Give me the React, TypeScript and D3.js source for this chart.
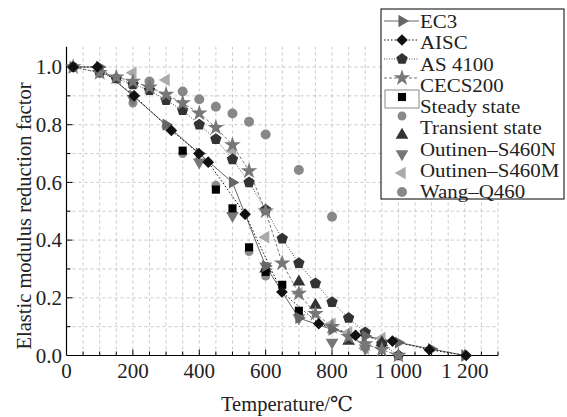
import React from 'react';
import * as d3 from 'd3';

// code curves (temperature in °C, reduction factor)
const ec3Temp = [20, 100, 200, 300, 400, 500, 600, 700, 800, 900, 1000, 1100, 1200];
const ec3Factor = [1, 1, 0.9, 0.8, 0.7, 0.6, 0.31, 0.13, 0.09, 0.0675, 0.045, 0.0225, 0];

const aiscTemp = [20, 93, 204, 316, 399, 427, 538, 649, 760, 871, 982, 1093, 1204];
const aiscFactor = [1, 1, 0.9, 0.78, 0.7, 0.67, 0.49, 0.22, 0.11, 0.07, 0.05, 0.02, 0];

const codeTemp = [20, 100, 150, 200, 250, 300, 350, 400, 450, 500, 550, 600, 650, 700, 750, 800, 850, 900, 950, 1000];
const as4100Factor = [1, 0.98, 0.96, 0.94, 0.92, 0.885, 0.85, 0.8, 0.75, 0.68, 0.6, 0.505, 0.405, 0.32, 0.25, 0.185, 0.13, 0.08, 0.04, 0];
const cecsFactor = [1, 0.98, 0.965, 0.95, 0.93, 0.905, 0.875, 0.84, 0.79, 0.73, 0.64, 0.5, 0.32, 0.215, 0.145, 0.1, 0.065, 0.04, 0.02, 0];

// test data
const steadyTemp = [350, 450, 500, 550, 600, 650, 700];
const steadyFactor = [0.71, 0.575, 0.51, 0.375, 0.29, 0.245, 0.155];
const steadyGreyTemp = [100, 200, 300, 350, 450, 550, 600];
const steadyGreyFactor = [0.98, 0.875, 0.795, 0.7, 0.59, 0.36, 0.275];
const transientTemp = [600, 700, 750, 850, 950];
const transientFactor = [0.3, 0.255, 0.175, 0.05, 0.045];
const s460nTemp = [200, 400, 500, 600, 700, 800, 900];
const s460nFactor = [0.89, 0.67, 0.485, 0.31, 0.13, 0.045, 0.025];
const s460mTemp = [200, 300, 500, 600, 700, 800, 850, 900, 950];
const s460mFactor = [0.98, 0.955, 0.71, 0.41, 0.215, 0.11, 0.08, 0.025, 0.06];
const wangTemp = [20, 250, 350, 400, 450, 500, 550, 600, 700, 800];
const wangFactor = [1, 0.95, 0.915, 0.888, 0.862, 0.839, 0.81, 0.766, 0.643, 0.481];

const xTicks = [0, 200, 400, 600, 800, 1000, 1200];
const xTickLabels = ['0', '200', '400', '600', '800', '1 000', '1 200'];
const yTicks = [0, 0.2, 0.4, 0.6, 0.8, 1.0];

const legendLabels = ['EC3', 'AISC', 'AS 4100', 'CECS200', 'Steady state', 'Transient state',
  'Outinen\u2013S460N', 'Outinen\u2013S460M', 'Wang\u2013Q460'];

const FONT = "'Liberation Serif', 'Times New Roman', 'DejaVu Serif', serif";

const pentagon = {
  draw(ctx: any, size: number) {
    const r = Math.sqrt(size / 2.378);
    for (let i = 0; i < 5; i++) {
      const a = -Math.PI / 2 + (i * 2 * Math.PI) / 5;
      const x = r * Math.cos(a), y = r * Math.sin(a);
      if (i === 0) ctx.moveTo(x, y); else ctx.lineTo(x, y);
    }
    ctx.closePath();
  },
};

type Mk = { type: any; size: number; fill: string; rot: number };
const mk = {
  ec3: { type: d3.symbolTriangle, size: 65, fill: '#666', rot: 90 },
  aisc: { type: d3.symbolSquare, size: 68, fill: '#111', rot: 45 },
  as4100: { type: pentagon, size: 85, fill: '#333', rot: 0 },
  cecs: { type: d3.symbolStar, size: 85, fill: '#777', rot: 0 },
  steady: { type: d3.symbolSquare, size: 66, fill: '#000', rot: 0 },
  steadyGrey: { type: d3.symbolCircle, size: 62, fill: '#8a8a8a', rot: 0 },
  transient: { type: d3.symbolTriangle, size: 70, fill: '#333', rot: 0 },
  s460n: { type: d3.symbolTriangle, size: 70, fill: '#777', rot: 180 },
  s460m: { type: d3.symbolTriangle, size: 70, fill: '#aaa', rot: -90 },
  wang: { type: d3.symbolCircle, size: 78, fill: '#888', rot: 0 },
} as Record<string, Mk>;

const Marker = ({ m, x, y }: { m: Mk; x: number; y: number }) => (
  <path
    d={d3.symbol().type(m.type).size(m.size)() as string}
    transform={`translate(${x},${y}) rotate(${m.rot})`}
    fill={m.fill}
  />
);

const txt = { fontFamily: FONT, fill: '#222' };

export default function App() {
  const width = 567, height = 417;
  const x = d3.scaleLinear().domain([0, 1300]).range([66.5, 498]);
  const y = d3.scaleLinear().domain([0, 1.07]).range([355.5, 46.8]);

  const line = (t: number[], k: number[]) =>
    d3.line<number>().x((_, i) => x(t[i])).y((_, i) => y(k[i]))(t) as string;

  const scatter = (t: number[], k: number[], m: Mk, key: string) =>
    t.map((v, i) => <Marker key={key + i} m={m} x={x(v)} y={y(k[i])} />);

  const vGrid = d3.range(50, 1301, 50);
  const hGrid = d3.range(1, 11).map(d => d / 10);

  const legX = 381, legY = 9;
  const symX = 402;
  const symY = (i: number) => 21 + i * 19;
  const txtY = (i: number) => 21.5 + i * 21.3;
  const legendSyms: { m: Mk; dash?: string; stroke?: string }[] = [
    { m: mk.ec3, dash: 'none', stroke: '#666' },
    { m: mk.aisc, dash: '1.5,2', stroke: '#111' },
    { m: mk.as4100, dash: '1,1.5', stroke: '#555' },
    { m: mk.cecs, dash: '3,2', stroke: '#777' },
    { m: mk.steady },
    { m: mk.steadyGrey },
    { m: mk.transient },
    { m: mk.s460n },
    { m: mk.s460m },
    { m: mk.wang },
  ];

  return (
    <svg width={width} height={height} style={{ position: 'absolute', left: 0, top: 0, background: '#fff' }}>
      {/* grid */}
      {vGrid.map(g => (
        <line key={'vg' + g} x1={x(g)} x2={x(g)} y1={y(0)} y2={y(1.07)}
          stroke="#bbb" strokeWidth={0.8} strokeDasharray="3,3" />
      ))}
      {hGrid.map(g => (
        <line key={'hg' + g} x1={x(0)} x2={x(1300)} y1={y(g)} y2={y(g)}
          stroke="#bbb" strokeWidth={0.8} strokeDasharray="3,3" />
      ))}

      {/* axes */}
      <line x1={x(0)} x2={x(1300)} y1={y(0)} y2={y(0)} stroke="#000" strokeWidth={1.2} />
      <line x1={x(0)} x2={x(0)} y1={y(0)} y2={y(1.07)} stroke="#000" strokeWidth={1.2} />
      {vGrid.map(g => (
        <line key={'xt' + g} x1={x(g)} x2={x(g)} y1={y(0)} y2={y(0) - (g % 200 === 0 ? 6 : 4)}
          stroke="#000" strokeWidth={1} />
      ))}
      {hGrid.map(g => (
        <line key={'yt' + g} x1={x(0)} x2={x(0) + (Math.round(g * 10) % 2 === 0 ? 6 : 4)} y1={y(g)} y2={y(g)}
          stroke="#000" strokeWidth={1} />
      ))}
      {xTicks.map((t, i) => (
        <text key={'xl' + t} x={x(t)} y={378} textAnchor="middle" fontSize={21}
          style={{ ...txt, whiteSpace: 'pre' }}>{xTickLabels[i]}</text>
      ))}
      {yTicks.map(t => (
        <text key={'yl' + t} x={62} y={y(t)} dy="0.35em" textAnchor="end" fontSize={21} style={txt}>
          {t.toFixed(1)}</text>
      ))}
      <text x={287} y={411} textAnchor="middle" fontSize={20.5} style={txt}>Temperature/℃</text>
      <text transform="translate(31,216) rotate(-90)" textAnchor="middle" fontSize={20.5} style={txt}>
        Elastic modulus reduction factor</text>

      {/* code curves */}
      <path d={line(ec3Temp, ec3Factor)} fill="none" stroke="#666" strokeWidth={1} />
      <path d={line(aiscTemp, aiscFactor)} fill="none" stroke="#111" strokeWidth={1} strokeDasharray="1.5,2" />
      <path d={line(codeTemp, as4100Factor)} fill="none" stroke="#555" strokeWidth={1} strokeDasharray="1,1.5" />
      <path d={line(codeTemp, cecsFactor)} fill="none" stroke="#777" strokeWidth={1} strokeDasharray="3,2" />

      {/* test data */}
      {scatter(wangTemp, wangFactor, mk.wang, 'w')}
      {scatter(steadyGreyTemp, steadyGreyFactor, mk.steadyGrey, 'sg')}
      {scatter(s460mTemp, s460mFactor, mk.s460m, 'sm')}
      {scatter(s460nTemp, s460nFactor, mk.s460n, 'sn')}
      {scatter(transientTemp, transientFactor, mk.transient, 'tr')}
      {scatter(steadyTemp, steadyFactor, mk.steady, 'st')}

      {/* code markers */}
      {scatter(codeTemp, as4100Factor, mk.as4100, 'as')}
      {scatter(codeTemp, cecsFactor, mk.cecs, 'ce')}
      {scatter(ec3Temp, ec3Factor, mk.ec3, 'ec')}
      {scatter(aiscTemp, aiscFactor, mk.aisc, 'ai')}

      {/* legend */}
      <rect x={legX} y={legY} width={183} height={190} fill="#fff" stroke="#000" strokeWidth={1} />
      {legendSyms.map((s, i) => (
        <g key={'ls' + i}>
          {s.stroke && (
            <line x1={384} x2={419} y1={symY(i)} y2={symY(i)} stroke={s.stroke} strokeWidth={1}
              strokeDasharray={s.dash} />
          )}
          <Marker m={s.m} x={symX} y={symY(i)} />
        </g>
      ))}
      <rect x={385} y={90} width={34} height={18} fill="none" stroke="#888" strokeWidth={1} />
      {legendLabels.map((l, i) => (
        <g key={'lt' + i} transform={`translate(420,${txtY(i)}) scale(1.1,1)`}>
          <text x={0} y={0} dy="0.34em" fontSize={19} style={txt}>{l}</text>
        </g>
      ))}
    </svg>
  );
}
